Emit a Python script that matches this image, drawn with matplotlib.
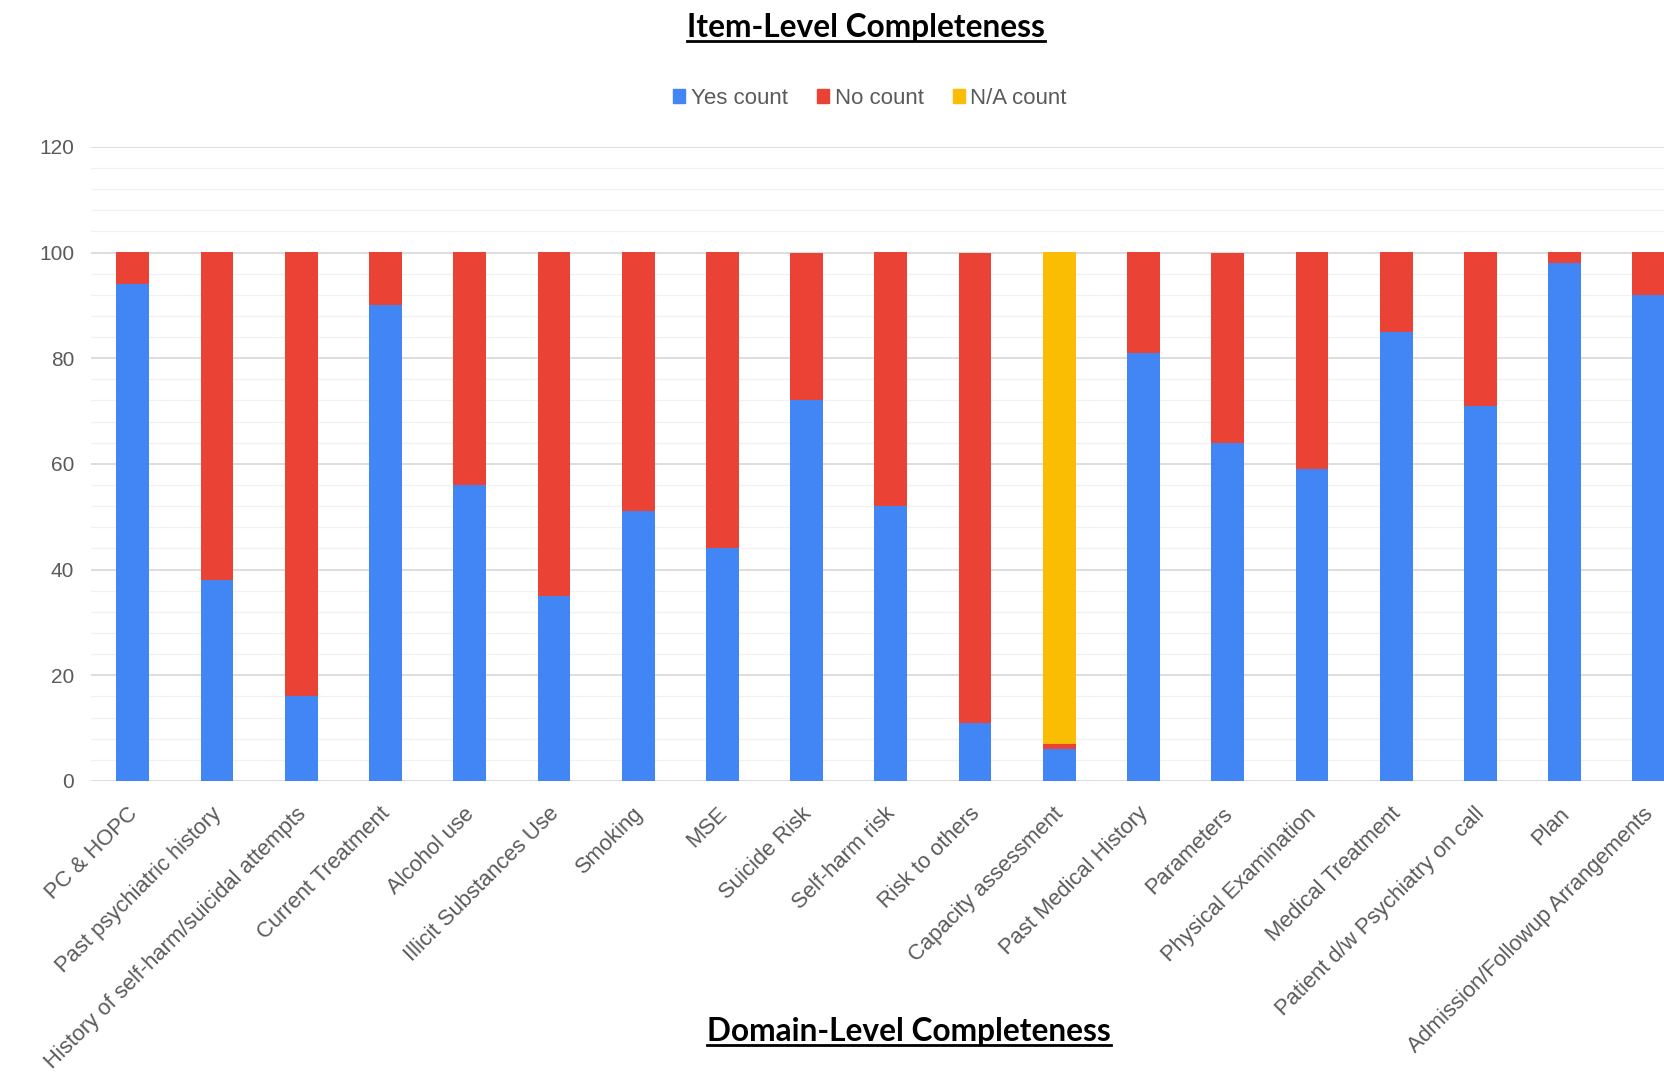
import matplotlib
matplotlib.use("Agg")
import matplotlib.pyplot as plt
from matplotlib.patches import Patch
from matplotlib.lines import Line2D
from matplotlib.transforms import ScaledTranslation
import numpy as np

categories = [
    "PC & HOPC",
    "Past psychiatric history",
    "History of self-harm/suicidal attempts",
    "Current Treatment",
    "Alcohol use",
    "Illicit Substances Use",
    "Smoking",
    "MSE",
    "Suicide Risk",
    "Self-harm risk",
    "Risk to others",
    "Capacity assessment",
    "Past Medical History",
    "Parameters",
    "Physical Examination",
    "Medical Treatment",
    "Patient d/w Psychiatry on call",
    "Plan",
    "Admission/Followup Arrangements",
]
yes_count = [94, 38, 16, 90, 56, 35, 51, 44, 72, 52, 11, 6, 81, 64, 59, 85, 71, 98, 92]
no_count = [6, 62, 84, 10, 44, 65, 49, 56, 28, 48, 89, 1, 19, 36, 41, 15, 29, 2, 8]
na_count = [0, 0, 0, 0, 0, 0, 0, 0, 0, 0, 0, 93, 0, 0, 0, 0, 0, 0, 0]

blue = "#4285F4"
red = "#EA4335"
yellow = "#FBBC04"

W, H = 1664, 1073
fig = plt.figure(figsize=(W / 100, H / 100), dpi=100)

# axes runs past the right edge of the picture, like the cropped screenshot
ax = fig.add_axes([90.7 / W, 1 - 781 / H, 1 - 90.7 / W + 0.001, (781 - 146.8) / H])

x = np.arange(len(categories))
yes = np.array(yes_count)
no = np.array(no_count)
na = np.array(na_count)
bw = 0.39
ax.bar(x, yes, width=bw, color=blue, zorder=3)
ax.bar(x, no, width=bw, bottom=yes, color=red, zorder=3)
ax.bar(x, na, width=bw, bottom=yes + no, color=yellow, zorder=3)

ax.set_xlim(-0.5, 18.2)
ax.set_ylim(0, 120)
ax.set_yticks(np.arange(0, 121, 20))
ax.set_yticks(np.arange(0, 121, 4), minor=True)
ax.grid(axis="y", which="major", color="#d3d3d3", lw=1.1, zorder=0)
ax.grid(axis="y", which="minor", color="#f1f1f1", lw=0.9, zorder=0)
for s in ax.spines.values():
    s.set_visible(False)
ax.tick_params(axis="both", which="both", length=0)
ax.tick_params(axis="y", labelsize=15, labelcolor="#5a5a5a", pad=12)

ax.set_xticks(x)
ax.set_xticklabels(categories, rotation=45, ha="right", va="top",
                   rotation_mode="anchor", fontsize=15.8, color="#5a5a5a")
ax.tick_params(axis="x", pad=16)
shift = ScaledTranslation(-6 / 100, 0, fig.dpi_scale_trans)
for lab in ax.get_xticklabels():
    lab.set_fontfamily("Liberation Sans")
    lab.set_transform(lab.get_transform() + shift)
for lab in ax.get_yticklabels():
    lab.set_fontfamily("Liberation Sans")

handles = [Patch(color=blue, label="Yes count"),
           Patch(color=red, label="No count"),
           Patch(color=yellow, label="N/A count")]
leg = fig.legend(handles=handles, loc="center", bbox_to_anchor=(870 / W, 1 - 98.5 / H),
                 ncol=3, frameon=False, handlelength=0.55, handleheight=0.55,
                 handletextpad=0.25, columnspacing=1.3,
                 prop={"family": "Liberation Sans", "size": 16})
for t in leg.get_texts():
    t.set_color("#5a5a5a")

t1 = fig.text(866 / W, 1 - 27.5 / H, "Item-Level Completeness", ha="center", va="center",
              fontsize=22.8, fontweight="bold", family="Lato", color="black")
t2 = fig.text(909 / W, 1 - 1031 / H, "Domain-Level Completeness", ha="center", va="center",
              fontsize=22.8, fontweight="bold", family="Lato", color="black")

# underline both headings
fig.canvas.draw()
r = fig.canvas.get_renderer()
for t, uy in [(t1, 40.5), (t2, 1044.5)]:
    bb = t.get_window_extent(r)
    fig.add_artist(Line2D([bb.x0 / W, bb.x1 / W], [1 - uy / H, 1 - uy / H],
                          color="black", lw=2, transform=fig.transFigure))

fig.savefig("out.png", dpi=100)
